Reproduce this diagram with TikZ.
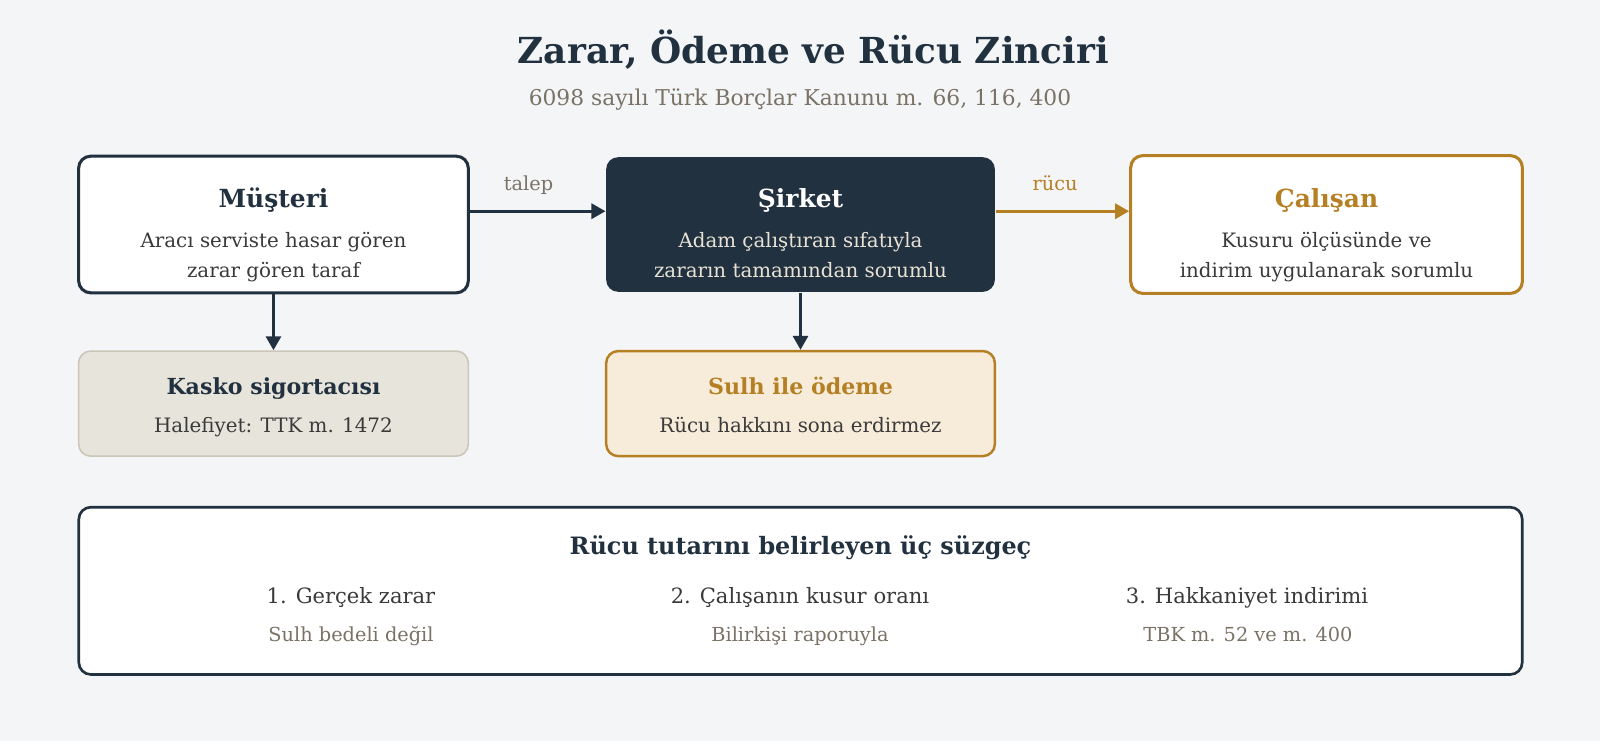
\documentclass[tikz,border=0pt]{standalone}
\usepackage{fontspec}
\setmainfont{DejaVu Serif}
\usetikzlibrary{arrows.meta}

\definecolor{navy}{HTML}{22313F}
\definecolor{gold}{HTML}{B57F24}
\definecolor{muted}{HTML}{7A7265}
\definecolor{ink}{HTML}{3A3A3A}
\definecolor{paper}{HTML}{F4F5F7}
\definecolor{pale}{HTML}{E8E2D6}
\definecolor{sand}{HTML}{E7E4DB}
\definecolor{sandline}{HTML}{CCC6B8}
\definecolor{cream}{HTML}{F7ECD9}

\tikzstyle{box} = [rectangle, rounded corners=0.12cm, inner sep=0pt]
\tikzstyle{head} = [anchor=base, inner sep=0pt, font=\bfseries\fontsize{7.1}{8}\selectfont, text=navy]
\tikzstyle{subhead} = [anchor=base, inner sep=0pt, font=\bfseries\fontsize{6.3}{7}\selectfont, text=navy]
\tikzstyle{body} = [anchor=base, inner sep=0pt, font=\fontsize{5.65}{6.5}\selectfont, text=ink]
\tikzstyle{note} = [anchor=base, inner sep=0pt, font=\fontsize{5.5}{6}\selectfont]
\tikzstyle{arrow} = [line width=0.87pt, -{Triangle[length=0.14cm,width=0.15cm]}]

\begin{document}
\begin{tikzpicture}[x=0.010204cm,y=-0.010204cm]
	\fill[paper] (0,0) rectangle (1568,726.2);
	\useasboundingbox (0,0) rectangle (1568,726.2);

	\node[anchor=base, font=\bfseries\fontsize{10.2}{12}\selectfont, text=navy] (title) at (797,62) {Zarar, Ödeme ve Rücu Zinciri};
	\node[anchor=base, font=\fontsize{6.2}{7}\selectfont, text=muted] (sub) at (784,103) {6098 sayılı Türk Borçlar Kanunu m. 66, 116, 400};

	% upper row
	\node[box, draw=navy, line width=0.87pt, fill=white, minimum width=3.898cm, minimum height=1.367cm] (mus) at (268,220) {};
	\node[box, fill=navy, minimum width=3.888cm, minimum height=1.347cm] (sir) at (784.5,220) {};
	\node[box, draw=gold, line width=0.87pt, fill=white, minimum width=3.918cm, minimum height=1.378cm] (cal) at (1300,220) {};

	\node[head] (mus1) at (268,203) {Müşteri};
	\node[body] (mus2) at (268,243) {Aracı serviste hasar gören};
	\node[body] (mus3) at (268,272) {zarar gören taraf};

	\node[head, text=white] (sir1) at (784.5,203) {Şirket};
	\node[body, text=pale] (sir2) at (784.5,243) {Adam çalıştıran sıfatıyla};
	\node[body, text=pale] (sir3) at (784.5,272) {zararın tamamından sorumlu};

	\node[head, text=gold] (cal1) at (1300,203) {Çalışan};
	\node[body] (cal2) at (1300,243) {Kusuru ölçüsünde ve};
	\node[body] (cal3) at (1300,272) {indirim uygulanarak sorumlu};

	% lower row
	\node[box, draw=sandline, line width=0.45pt, fill=sand, minimum width=3.898cm, minimum height=1.051cm] (kas) at (268,395.5) {};
	\node[box, draw=gold, line width=0.7pt, fill=cream, minimum width=3.888cm, minimum height=1.051cm] (sul) at (784.5,395.5) {};

	\node[subhead] (kas1) at (268,387) {Kasko sigortacısı};
	\node[body] (kas2) at (268,424) {Halefiyet: TTK m. 1472};
	\node[subhead, text=gold] (sul1) at (784.5,387) {Sulh ile ödeme};
	\node[body] (sul2) at (784.5,424) {Rücu hakkını sona erdirmez};

	% connectors
	\draw[arrow, navy] ([yshift=0.133cm]mus.east) -- ([yshift=0.133cm]sir.west);
	\draw[arrow, gold] ([yshift=0.133cm]sir.east) -- ([yshift=0.133cm]cal.west);
	\draw[arrow, navy] (mus.south) -- (kas.north);
	\draw[arrow, navy] (sir.south) -- (sul.north);
	\node[note, text=muted] (talep) at (518,187) {talep};
	\node[note, text=gold] (rucu) at (1034,187) {rücu};

	% filters
	\node[box, draw=navy, line width=0.75pt, fill=white, minimum width=14.439cm, minimum height=1.673cm] (suz) at (784.5,579) {};
	\node[anchor=base, font=\bfseries\fontsize{6.8}{7.5}\selectfont, text=navy] (suz0) at (784.5,543) {Rücu tutarını belirleyen üç süzgeç};
	\node[body, font=\fontsize{6.0}{7}\selectfont] (f1) at (344,591) {1. Gerçek zarar};
	\node[body, font=\fontsize{6.0}{7}\selectfont] (f2) at (784,591) {2. Çalışanın kusur oranı};
	\node[body, font=\fontsize{6.0}{7}\selectfont] (f3) at (1222,591) {3. Hakkaniyet indirimi};
	\node[note, text=muted] (g1) at (344,629) {Sulh bedeli değil};
	\node[note, text=muted] (g2) at (784,629) {Bilirkişi raporuyla};
	\node[note, text=muted] (g3) at (1223,629) {TBK m. 52 ve m. 400};
\end{tikzpicture}
\end{document}
